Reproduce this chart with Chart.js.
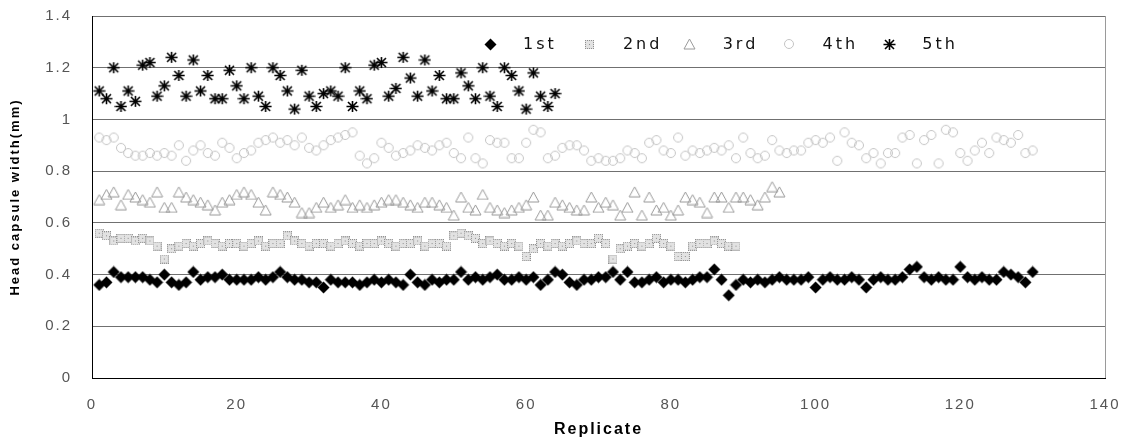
<!DOCTYPE html>
<html><head><meta charset="utf-8">
<script src="https://cdn.jsdelivr.net/npm/chart.js@4.4.0/dist/chart.umd.min.js"></script>
<style>html,body{margin:0;padding:0;background:#fff}#wrap{width:1124px;height:446px;position:relative}</style>
</head><body><div id="wrap"><canvas id="c" width="1124" height="446"></canvas></div>
<script>
const seriesNames = ['1st','2nd','3rd','4th','5th'];
const xTicks = [0,20,40,60,80,100,120,140];
const yTicks = [0,0.2,0.4,0.6,0.8,1,1.2,1.4];
const xTitle = 'Replicate';
const yTitle = 'Head capsule width(mm)';

const instar1 = [
0.36,0.37,0.41,0.39,0.39,0.39,0.39,0.38,0.37,0.40,
0.37,0.36,0.37,0.41,0.38,0.39,0.39,0.40,0.38,0.38,
0.38,0.38,0.39,0.38,0.39,0.41,0.39,0.38,0.38,0.37,
0.37,0.35,0.38,0.37,0.37,0.37,0.36,0.37,0.38,0.37,
0.38,0.37,0.36,0.40,0.37,0.36,0.38,0.37,0.38,0.38,
0.41,0.38,0.39,0.38,0.39,0.40,0.38,0.38,0.39,0.38,
0.39,0.36,0.38,0.41,0.40,0.37,0.36,0.38,0.38,0.39,
0.39,0.41,0.38,0.41,0.37,0.37,0.38,0.39,0.37,0.38,
0.38,0.37,0.38,0.39,0.39,0.42,0.38,0.32,0.36,0.38,
0.37,0.38,0.37,0.38,0.39,0.38,0.38,0.38,0.39,0.35,
0.38,0.39,0.38,0.38,0.39,0.38,0.35,0.38,0.39,0.38,
0.38,0.39,0.42,0.43,0.39,0.38,0.39,0.38,0.38,0.43,
0.39,0.38,0.39,0.38,0.38,0.41,0.40,0.39,0.37,0.41];

const instar2 = [
0.56,0.55,0.53,0.54,0.54,0.53,0.54,0.53,0.51,0.46,
0.50,0.51,0.52,0.51,0.52,0.53,0.52,0.51,0.52,0.52,
0.51,0.52,0.53,0.51,0.52,0.52,0.55,0.53,0.52,0.51,
0.52,0.52,0.51,0.52,0.53,0.52,0.51,0.52,0.52,0.53,
0.52,0.51,0.52,0.52,0.53,0.51,0.52,0.52,0.51,0.55,
0.56,0.55,0.54,0.52,0.53,0.52,0.51,0.52,0.51,0.47,
0.50,0.52,0.51,0.52,0.51,0.52,0.53,0.52,0.52,0.54,
0.52,0.46,0.50,0.51,0.52,0.51,0.52,0.54,0.52,0.51,
0.47,0.47,0.51,0.52,0.52,0.53,0.52,0.51,0.51];

const instar3 = [
0.69,0.71,0.72,0.67,0.71,0.70,0.69,0.68,0.72,0.66,
0.66,0.72,0.70,0.69,0.68,0.67,0.65,0.68,0.69,0.71,
0.72,0.71,0.68,0.65,0.72,0.71,0.70,0.68,0.64,0.64,
0.66,0.68,0.66,0.67,0.69,0.66,0.67,0.66,0.67,0.68,
0.69,0.69,0.68,0.67,0.66,0.68,0.68,0.67,0.66,0.63,
0.70,0.66,0.65,0.71,0.66,0.65,0.64,0.65,0.66,0.67,
0.70,0.63,0.63,0.68,0.67,0.66,0.65,0.65,0.70,0.66,
0.68,0.67,0.63,0.66,0.72,0.63,0.70,0.65,0.66,0.63,
0.65,0.70,0.69,0.68,0.64,0.70,0.70,0.66,0.70,0.70,
0.69,0.67,0.70,0.74,0.72];

const instar4 = [
0.93,0.92,0.93,0.89,0.87,0.86,0.86,0.87,0.86,0.87,
0.86,0.90,0.84,0.88,0.90,0.87,0.86,0.91,0.89,0.85,
0.87,0.88,0.91,0.92,0.93,0.91,0.92,0.90,0.93,0.89,
0.88,0.90,0.92,0.93,0.94,0.95,0.86,0.83,0.85,0.91,
0.89,0.86,0.87,0.88,0.90,0.89,0.88,0.90,0.91,0.87,
0.85,0.93,0.85,0.83,0.92,0.91,0.91,0.85,0.85,0.91,
0.96,0.95,0.85,0.86,0.89,0.90,0.90,0.88,0.84,0.85,
0.84,0.84,0.85,0.88,0.87,0.85,0.91,0.92,0.88,0.87,
0.93,0.86,0.88,0.87,0.88,0.89,0.88,0.90,0.85,0.93,
0.87,0.85,0.86,0.92,0.88,0.87,0.88,0.88,0.91,0.92,
0.91,0.93,0.84,0.95,0.91,0.90,0.85,0.87,0.83,0.87,
0.87,0.93,0.94,0.83,0.92,0.94,0.83,0.96,0.95,0.87,
0.84,0.88,0.91,0.87,0.93,0.92,0.91,0.94,0.87,0.88];

const instar5 = [
1.11,1.08,1.20,1.05,1.11,1.07,1.21,1.22,1.09,1.13,
1.24,1.17,1.09,1.23,1.11,1.17,1.08,1.08,1.19,1.13,
1.08,1.20,1.09,1.05,1.20,1.17,1.11,1.04,1.19,1.09,
1.05,1.10,1.11,1.09,1.20,1.05,1.11,1.08,1.21,1.22,
1.09,1.12,1.24,1.16,1.09,1.23,1.11,1.17,1.08,1.08,
1.18,1.13,1.08,1.20,1.09,1.05,1.20,1.17,1.11,1.04,
1.18,1.09,1.05,1.10];

function toPoints(arr){ return arr.map((v,i)=>({x:i+1,y:v})); }

function marker(kind){
  const c=document.createElement('canvas');
  const g=c.getContext('2d');
  if(kind==='diamond'){
    c.width=13;c.height=13;
    g.fillStyle='#000';g.beginPath();
    g.moveTo(6.5,0.5);g.lineTo(12.5,6.5);g.lineTo(6.5,12.5);g.lineTo(0.5,6.5);g.closePath();g.fill();
  } else if(kind==='hatch'){
    c.width=9;c.height=9;
    g.fillStyle='#e2e2e2';g.fillRect(0,0,9,9);
    g.fillStyle='#8f8f8f';
    for(let i=0;i<9;i++)for(let j=0;j<9;j++){ if((i+j)%2===0 && (i===0||j===0||i===8||j===8||(i%4===0&&j%4===0))) g.fillRect(i,j,1,1); }
  } else if(kind==='tri'){
    c.width=13;c.height=12;
    g.strokeStyle='#9a9a9a';g.lineWidth=1;g.beginPath();
    g.moveTo(6.5,1);g.lineTo(12,11);g.lineTo(1,11);g.closePath();g.stroke();
  } else if(kind==='circle'){
    c.width=12;c.height=12;
    g.strokeStyle='#c4c4c4';g.lineWidth=1;g.beginPath();
    g.arc(6,6,4.5,0,Math.PI*2);g.stroke();
  } else if(kind==='star'){
    c.width=13;c.height=13;
    g.strokeStyle='#000';g.lineWidth=1.6;g.lineCap='butt';g.beginPath();
    g.moveTo(2,2);g.lineTo(11,11);g.moveTo(11,2);g.lineTo(2,11);
    g.moveTo(0.5,6.5);g.lineTo(12.5,6.5);g.moveTo(6.5,1);g.lineTo(6.5,12);
    g.stroke();
  }
  return c;
}
const markers=[marker('diamond'),marker('hatch'),marker('tri'),marker('circle'),marker('star')];
const seriesData=[instar1,instar2,instar3,instar4,instar5];

const legendPlugin={
  id:'customLegend',
  afterDraw(chart){
    const ctx=chart.ctx, a=chart.chartArea;
    const w=a.right-a.left;
    const startX=a.left+w*0.393, step=w*0.0985, y=a.top+28;
    ctx.save();
    ctx.font='16px "DejaVu Sans"';
    ctx.letterSpacing='3px';
    ctx.fillStyle='#111';ctx.textBaseline='middle';ctx.textAlign='left';
    seriesNames.forEach((n,i)=>{
      const mx=startX+step*i;
      const m=markers[i];
      ctx.drawImage(m,Math.round(mx-m.width/2),Math.round(y-m.height/2));
      ctx.fillText(n,mx+33,y+1);
    });
    ctx.restore();
  }
};
const spacingPlugin={id:'spacing',beforeDraw(chart){chart.ctx.letterSpacing='2px';}};

new Chart(document.getElementById('c'),{
  type:'scatter',
  data:{datasets:seriesData.map((d,i)=>({label:seriesNames[i],data:toPoints(d),pointStyle:markers[i],pointRadius:6,showLine:false}))},
  options:{
    responsive:false,animation:false,devicePixelRatio:1,events:[],
    layout:{padding:{left:0,right:19,top:16,bottom:0}},
    plugins:{legend:{display:false},tooltip:{enabled:false}},
    scales:{
      x:{type:'linear',min:0,max:140,
        afterBuildTicks(s){s.ticks=xTicks.map(v=>({value:v}));},
        afterFit(s){s.height=68;s.paddingLeft=0;s.paddingRight=0;},
        ticks:{padding:18,color:'#555',font:{family:'"Liberation Sans"',size:15},callback:v=>String(v),maxRotation:0},
        grid:{drawTicks:false,color:c=>c.tick&&c.tick.value===140?'#9a9a9a':'rgba(0,0,0,0)'},
        border:{color:'#000',width:1},
        title:{display:true,text:xTitle,color:'#000',font:{family:'"Liberation Sans"',size:16,weight:'bold'},padding:{top:0,bottom:7}}
      },
      y:{type:'linear',min:0,max:1.4,
        afterBuildTicks(s){s.ticks=yTicks.map(v=>({value:v}));},
        afterFit(s){s.width=92;s.paddingTop=0;s.paddingBottom=0;},
        ticks:{padding:20,color:'#555',font:{family:'"Liberation Sans"',size:15},callback:v=>String(Math.round(v*10)/10)},
        grid:{drawTicks:false,color:c=>c.tick&&c.tick.value===0?'rgba(0,0,0,0)':'#707070',lineWidth:1},
        border:{color:'#000',width:1},
        title:{display:true,text:yTitle,color:'#000',font:{family:'"Liberation Sans"',size:13,weight:'bold'},padding:{top:8,bottom:0}}
      }
    }
  },
  plugins:[spacingPlugin,legendPlugin]
});
</script></body></html>
